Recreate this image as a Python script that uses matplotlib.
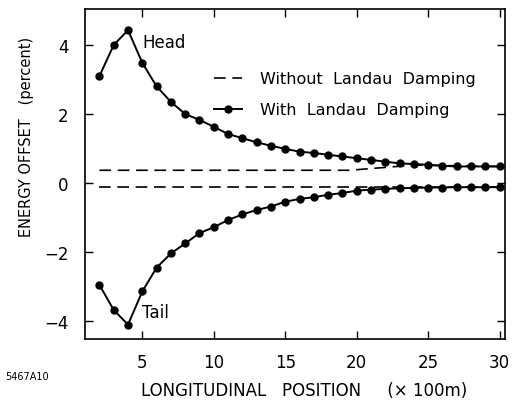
import numpy as np
import matplotlib
matplotlib.use('Agg')
import matplotlib.pyplot as plt

# Longitudinal position (x 100 m)
position = list(range(2, 31))

# Energy offset (percent), with Landau damping
head_damped = [3.10, 4.00, 4.43, 3.48, 2.80, 2.35, 2.00, 1.83, 1.63, 1.42,
               1.30, 1.18, 1.08, 0.99, 0.91, 0.87, 0.82, 0.77, 0.72, 0.67,
               0.62, 0.57, 0.55, 0.53, 0.50, 0.48, 0.48, 0.48, 0.48]
tail_damped = [-2.95, -3.68, -4.10, -3.14, -2.45, -2.04, -1.75, -1.45, -1.28, -1.07,
               -0.91, -0.78, -0.68, -0.54, -0.46, -0.41, -0.34, -0.29, -0.22, -0.19,
               -0.17, -0.15, -0.14, -0.13, -0.13, -0.12, -0.12, -0.12, -0.12]

# Without Landau damping
head_undamped_x = [2, 19.5, 21, 22.5, 24, 30]
head_undamped = [0.37, 0.37, 0.42, 0.47, 0.52, 0.48]
tail_undamped_x = [2, 30]
tail_undamped = [-0.11, -0.11]

fig = plt.figure(figsize=(5.13, 4.02), dpi=100)
ax = fig.add_axes([0.166, 0.154, 0.819, 0.821])

dash_style = dict(color='black', lw=1.2, linestyle=(0, (7, 4)))
ax.plot(head_undamped_x, head_undamped, **dash_style)
ax.plot(tail_undamped_x, tail_undamped, **dash_style)

solid_style = dict(color='black', lw=1.4, marker='o', markersize=5)
ax.plot(position, head_damped, **solid_style)
ax.plot(position, tail_damped, **solid_style)

# legend drawn by hand like the original figure
ax.plot([10.0, 12.0], [3.04, 3.04], **dash_style)
ax.plot([10.0, 12.0], [2.14, 2.14], color='black', lw=1.4)
ax.plot([11.0], [2.14], 'o', color='black', markersize=5)
ax.text(13.2, 3.04, 'Without  Landau  Damping', fontsize=11.5, va='center')
ax.text(13.2, 2.14, 'With  Landau  Damping', fontsize=11.5, va='center')

ax.text(5.0, 4.1, 'Head', fontsize=12, va='center')
ax.text(5.0, -3.74, 'Tail', fontsize=12, va='center')

ax.set_xlim(1.0, 30.4)
ax.set_ylim(-4.52, 5.04)
ax.set_xticks([5, 10, 15, 20, 25, 30])
ax.set_yticks([4, 2, 0, -2, -4])
ax.tick_params(direction='in', top=True, right=True, length=6, width=1,
               labelsize=12)
ax.tick_params(axis='x', pad=10)
ax.tick_params(axis='y', pad=12)
for s in ax.spines.values():
    s.set_linewidth(1.2)

ax.set_xlabel('LONGITUDINAL   POSITION     (\u00d7 100m)', fontsize=12)
ax.xaxis.set_label_coords(0.52, -0.127)
ax.set_ylabel('ENERGY OFFSET   (percent)', fontsize=10.5)
ax.yaxis.set_label_coords(-0.14, 0.615)
ax.yaxis.label.set_verticalalignment('center')
fig.text(0.01, 0.055, '5467A10', fontsize=7)

fig.savefig('out.png', dpi=100)
